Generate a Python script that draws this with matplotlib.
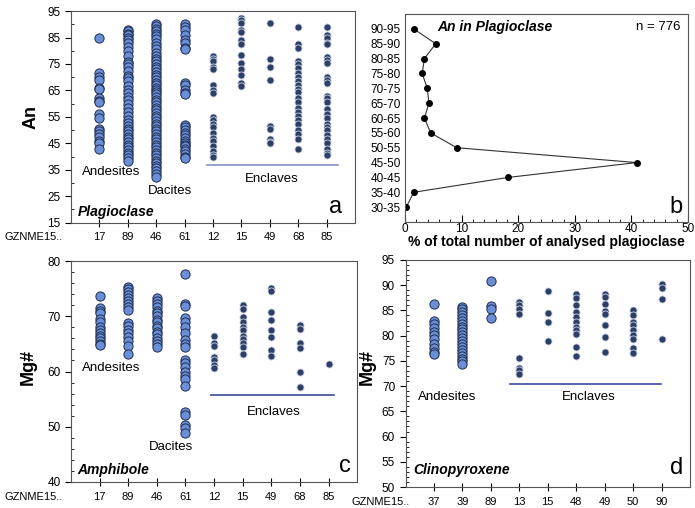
import numpy as np
import matplotlib
matplotlib.use("Agg")
import matplotlib.pyplot as plt
from matplotlib.ticker import MultipleLocator

plt.rcParams['font.family'] = ['Liberation Sans', 'DejaVu Sans']

# ---- Panel a: An in plagioclase, per sample ----
plag_samples = ["17", "89", "46", "61", "12", "15", "49", "68", "85"]
plag_lava = {
    "17": [85, 71.5, 70, 69, 66, 65.5, 62, 61, 60.5, 56, 54.5, 50.5, 49.5, 48.5,
           47.5, 46, 45, 43],
    "89": [88, 87.3, 86.5, 85.8, 85, 84, 82.8, 81.5, 79.8, 78, 75.8, 75, 74, 72.3,
           70.5, 69.8, 68.5, 66.5, 65.2, 64, 62.5, 61.3, 60, 58.5, 57, 55.5, 54,
           52.8, 51.5, 50.5, 49.5, 48.5, 47.5, 46.5, 45.5, 44.5, 43.5, 42.5, 41.5,
           40.5, 39.5, 38.5],
    "46": [90, 89.2, 88.3, 87.5, 86.5, 85.5, 84.3, 83, 81.8, 80.5, 79.3, 78, 77,
           76, 75, 74, 73, 72, 71, 70, 69, 68, 67, 66, 65.3, 64.5, 63.5, 62.5,
           61.5, 60.5, 59.5, 58.5, 57.5, 56.5, 55.5, 54.5, 53.5, 52.5, 51.5, 50.5,
           49.5, 48.5, 47.5, 46.5, 45.5, 44.5, 43.5, 42.5, 41.5, 40.5, 39.5, 38.5,
           37.5, 36.5, 35.5, 34.5, 33.3, 32.2],
    "61": [90, 89, 88, 86, 84, 83, 81, 80.5, 68, 67, 65, 64, 63.5, 52, 51, 50, 49,
           48, 47, 46, 45, 44.5, 44, 43, 42, 41, 40, 39.5],
}
plag_encl = {
    "12": [78, 77, 76, 74, 73, 67, 65, 64, 55, 54, 52.5, 51, 49, 47, 46, 44, 42,
           40.5, 40],
    "15": [92.5, 91.5, 90.5, 88, 87, 84, 82.5, 78.5, 75.5, 73, 71, 68, 66.5],
    "49": [90.5, 77, 74, 69, 51.5, 50.5, 46.5, 45.5, 45],
    "68": [89, 82.5, 81, 76, 75, 73.5, 71.5, 70, 68.5, 67, 65.5, 64.5, 62, 60.5,
           58.5, 57, 55.5, 54, 52.5, 50, 48.5, 46.5, 43],
    "85": [89, 86, 85, 83, 82.5, 77.5, 76.5, 75.5, 70, 69, 68, 63, 62, 60.5, 58,
           56, 54.5, 52.5, 51, 50, 48, 46.5, 45, 43, 41.5, 40.5],
}

# ---- Panel b: An histogram profile ----
an_bins = ["30-35", "35-40", "40-45", "45-50", "50-55", "55-60", "60-65",
           "65-70", "70-75", "75-80", "80-85", "85-90", "90-95"]
an_pct = [0.2, 1.5, 18.2, 40.9, 9.1, 4.5, 3.4, 4.2, 3.9, 3.0, 3.4, 5.4, 1.5]

# ---- Panel c: Mg# in amphibole ----
amph_samples = ["17", "89", "46", "61", "12", "15", "49", "68", "85"]
amph_lava = {
    "17": [73.7, 71.5, 71, 70.5, 69.5, 69, 68, 67.5, 67, 66.5, 66, 65.5, 65, 64.8],
    "89": [75.3, 74.9, 74.4, 73.8, 73.3, 72.8, 72.2, 71.6, 71.2, 68.8, 68.3, 67.5,
           67.0, 66.3, 65.6, 64.6, 63.2],
    "46": [73.3, 72.8, 72.2, 71.6, 71.0, 70.5, 70.0, 69.4, 68.9, 68.3, 67.8, 67.2,
           66.7, 66.1, 65.6, 65.0, 64.5],
    "61": [77.7, 72.2, 71.8, 69.6, 69, 68.1, 66.9, 65.7, 65, 64.5, 62.1, 61.5,
           60.8, 60, 59.2, 58.6, 57.3, 52.6, 52.2, 50.4, 49.8, 48.9],
}
amph_encl = {
    "12": [66.4, 65.2, 64.6, 62.6, 62.1, 61.2, 60.6],
    "15": [72, 71.4, 69.9, 69, 68.1, 67.5, 66.4, 65.8, 65.1, 64.4, 63.2],
    "49": [75.2, 74.5, 70.8, 69.3, 67.5, 66.2, 63.9, 62.8],
    "68": [68.4, 67.7, 65.1, 64.2, 59.9, 57.2],
    "85": [61.3],
}

# ---- Panel d: Mg# in clinopyroxene ----
cpx_samples = ["37", "39", "89", "13", "15", "48", "49", "50", "90"]
cpx_lava = {
    "37": [86.2, 82.9, 82.4, 81.6, 80.8, 80.1, 79.4, 78.3, 77.6, 76.8, 76.3],
    "39": [85.7, 85.2, 84.7, 84.1, 83.5, 83, 82.4, 81.8, 81.3, 80.7, 80.1, 79.5,
           79, 78.4, 77.8, 77.2, 76.6, 76, 75.4, 74.9, 74.3],
    "89": [90.8, 85.8, 85.2, 83.5],
}
cpx_encl = {
    "13": [86.7, 86.0, 85.2, 84.3, 75.5, 73.6, 73.1, 72.4],
    "15": [88.9, 84.5, 82.8, 79.0],
    "48": [88.2, 87.4, 86.1, 84.7, 83.7, 82.8, 81.8, 81.1, 80.3, 77.8, 76.0],
    "49": [88.3, 87.6, 86.3, 84.8, 84.2, 82.1, 79.8, 76.8],
    "50": [85.1, 84, 82.8, 82.1, 81.1, 80.1, 79.4, 77.6, 76.5],
    "90": [90.3, 89.5, 87.2, 79.3],
}

LAVA_FC = "#6a8fd6"
LAVA_EC = "#1f2d52"
ENCL_FC = "#2e3f66"
ENCL_EC = "#c9d2e6"
LINE_C = "#3a4a9a"
FRAME_C = "#555555"

fig = plt.figure(figsize=(6.95, 5.08), dpi=100)


def style_frame(ax):
    for sp in ax.spines.values():
        sp.set_color(FRAME_C)
        sp.set_linewidth(0.8)
    ax.tick_params(labelsize=8.5, colors="black")


def scatter_panel(ax, samples, lava, encl, row_x):
    pos = {s: i + 1 for i, s in enumerate(samples)}
    for s, vals in lava.items():
        ax.scatter(np.full(len(vals), pos[s]), vals, s=44, c=LAVA_FC,
                   edgecolors=LAVA_EC, linewidths=0.7, zorder=3)
    for s, vals in encl.items():
        ax.scatter(np.full(len(vals), pos[s]), vals, s=26, c=ENCL_FC,
                   edgecolors=ENCL_EC, linewidths=0.6, zorder=3)
    ax.set_xlim(0, 10)
    ax.set_xticks(range(1, len(samples) + 1))
    ax.set_xticklabels(samples)
    ax.tick_params(axis="x", direction="inout", length=6, pad=4)
    ax.tick_params(axis="y", which="major", direction="out", length=4)
    ax.tick_params(axis="y", which="minor", direction="in", length=2.5)
    style_frame(ax)
    ax.tick_params(axis="x", labelsize=8)
    # row label for the sample names, left of the y axis
    ax.annotate("GZNME15..", xy=(row_x, 0), xycoords="axes fraction",
                xytext=(0, -7), textcoords="offset points", ha="left",
                va="top", fontsize=8, annotation_clip=False)


# a) plagioclase
ax_a = fig.add_axes([0.102, 0.5616, 0.409, 0.4166])
scatter_panel(ax_a, plag_samples, plag_lava, plag_encl, -0.235)
ax_a.set_ylim(15, 95)
ax_a.set_yticks(np.arange(15, 96, 10))
ax_a.yaxis.set_minor_locator(MultipleLocator(5))
ax_a.set_ylabel("An", fontsize=13, fontweight="bold")
ax_a.yaxis.set_label_coords(-0.11, 0.5)
ax_a.plot([4.8, 9.4], [36.8, 36.8], color=LINE_C, lw=1.2, alpha=0.6)
ax_a.text(1.42, 34, "Andesites", ha="center", va="center", fontsize=9.5)
ax_a.text(3.5, 27, "Dacites", ha="center", va="center", fontsize=9.5)
ax_a.text(7.08, 31.6, "Enclaves", ha="center", va="center", fontsize=9.5)
ax_a.text(0.025, 0.05, "Plagioclase", transform=ax_a.transAxes, fontsize=10,
          fontweight="bold", fontstyle="italic", va="center")
ax_a.text(0.93, 0.074, "a", transform=ax_a.transAxes, fontsize=17,
          ha="center", va="center")

# b) An distribution
ax_b = fig.add_axes([0.583, 0.563, 0.407, 0.4094])
ypos = np.arange(len(an_bins))
ax_b.plot(an_pct, ypos, color="#333333", lw=0.8, marker="o", ms=4,
          mfc="black", mec="black")
ax_b.set_xlim(0, 50)
ax_b.set_ylim(-1, 13)
ax_b.set_yticks(ypos)
ax_b.set_yticklabels(an_bins)
ax_b.set_xticks(np.arange(0, 51, 10))
ax_b.xaxis.set_minor_locator(MultipleLocator(2))
ax_b.tick_params(axis="y", length=0, pad=3)
ax_b.tick_params(axis="x", which="major", direction="in", length=5, pad=1)
ax_b.tick_params(axis="x", which="minor", direction="in", length=2.5)
style_frame(ax_b)
ax_b.set_xlabel("% of total number of analysed plagioclase", fontsize=10,
                fontweight="bold", labelpad=0)
ax_b.text(0.113, 0.9375, "An in Plagioclase", transform=ax_b.transAxes,
          fontsize=10, fontweight="bold", fontstyle="italic", va="center")
ax_b.text(0.975, 0.9375, "n = 776", transform=ax_b.transAxes, fontsize=9.5,
          ha="right", va="center")
ax_b.text(0.958, 0.072, "b", transform=ax_b.transAxes, fontsize=17,
          ha="center", va="center")

# c) amphibole
ax_c = fig.add_axes([0.102, 0.0512, 0.412, 0.435])
scatter_panel(ax_c, amph_samples, amph_lava, amph_encl, -0.233)
ax_c.set_ylim(40, 80)
ax_c.set_yticks(np.arange(40, 81, 10))
ax_c.yaxis.set_minor_locator(MultipleLocator(2))
ax_c.set_ylabel("Mg#", fontsize=13, fontweight="bold")
ax_c.yaxis.set_label_coords(-0.12, 0.52)
ax_c.plot([4.88, 9.18], [55.7, 55.7], color=LINE_C, lw=1.2)
ax_c.text(1.4, 60.7, "Andesites", ha="center", va="center", fontsize=9.5)
ax_c.text(3.48, 46.3, "Dacites", ha="center", va="center", fontsize=9.5)
ax_c.text(7.08, 52.6, "Enclaves", ha="center", va="center", fontsize=9.5)
ax_c.text(0.024, 0.054, "Amphibole", transform=ax_c.transAxes, fontsize=10,
          fontweight="bold", fontstyle="italic", va="center")
ax_c.text(0.958, 0.072, "c", transform=ax_c.transAxes, fontsize=17,
          ha="center", va="center")

# d) clinopyroxene
ax_d = fig.add_axes([0.5835, 0.0413, 0.4093, 0.4469])
scatter_panel(ax_d, cpx_samples, cpx_lava, cpx_encl, -0.19)
ax_d.set_ylim(50, 95)
ax_d.set_yticks(np.arange(50, 96, 5))
ax_d.yaxis.set_minor_locator(MultipleLocator(1))
ax_d.set_ylabel("Mg#", fontsize=13, fontweight="bold")
ax_d.yaxis.set_label_coords(-0.104, 0.53)
ax_d.plot([3.67, 8.97], [70.4, 70.4], color=LINE_C, lw=1.2)
ax_d.text(1.46, 67.9, "Andesites", ha="center", va="center", fontsize=9.5)
ax_d.text(6.44, 67.9, "Enclaves", ha="center", va="center", fontsize=9.5)
ax_d.text(0.026, 0.075, "Clinopyroxene", transform=ax_d.transAxes, fontsize=10,
          fontweight="bold", fontstyle="italic", va="center")
ax_d.text(0.954, 0.084, "d", transform=ax_d.transAxes, fontsize=17,
          ha="center", va="center")

fig.savefig("out.png", dpi=100)
